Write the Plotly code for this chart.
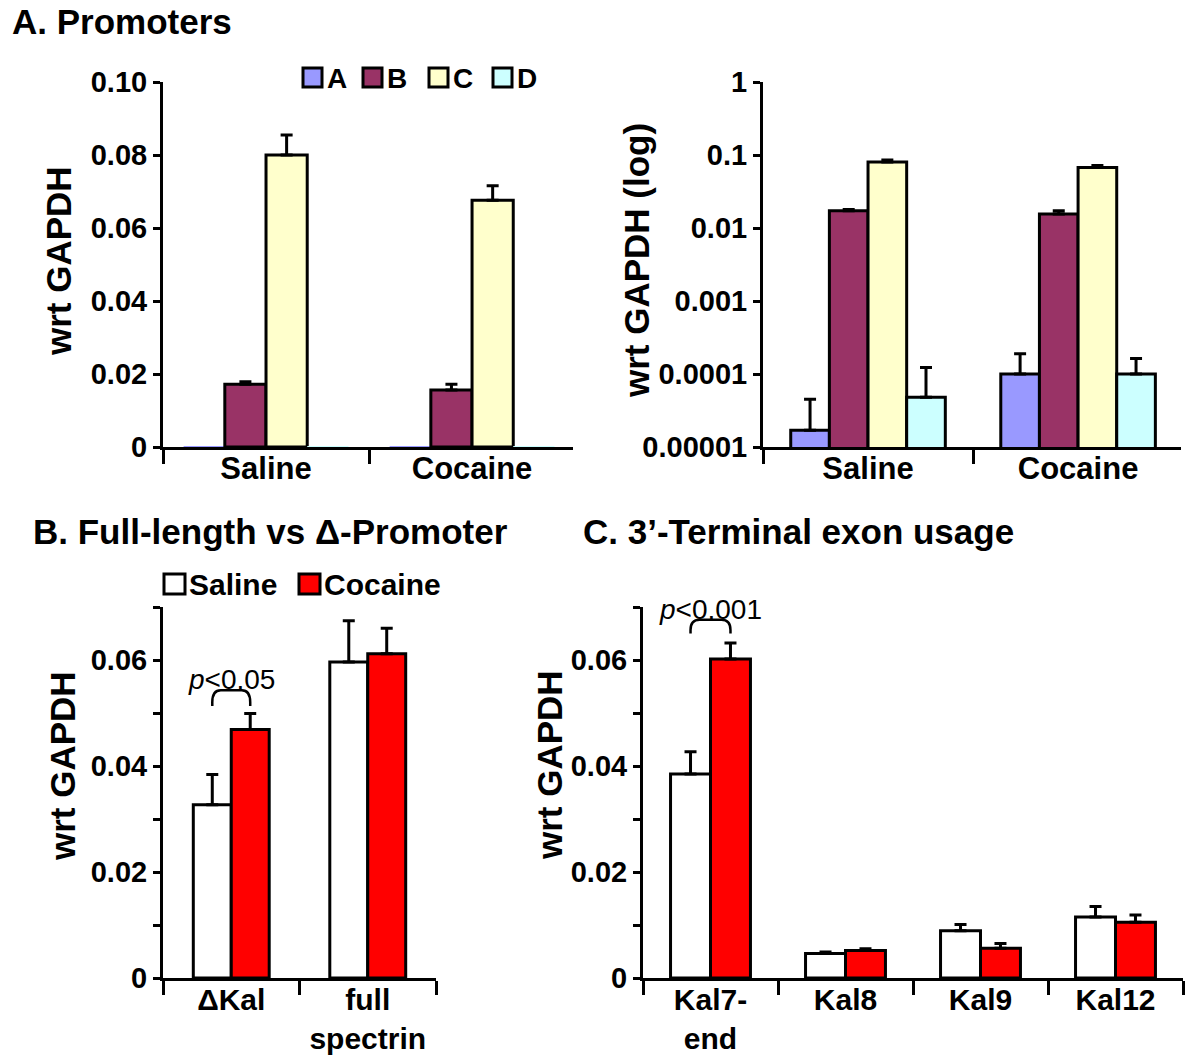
import plotly.graph_objects as go

# ---------------- data ----------------
# Panel A: promoter usage (Saline / Cocaine)
groups_A = ["Saline", "Cocaine"]
promoter_names = ["A", "B", "C", "D"]
prom_A = [1.7e-5, 1.0e-4]
prom_A_err = [2.8e-5, 0.9e-4]
prom_B = [0.0172, 0.0156]
prom_B_err = [0.0007, 0.0016]
prom_C = [0.0800, 0.0676]
prom_C_err = [0.0055, 0.0040]
prom_D = [4.8e-5, 1.0e-4]
prom_D_err = [7.5e-5, 0.63e-4]
prom_colors = ["#9999FF", "#993366", "#FFFFCC", "#CCFFFF"]

lin_ticks_A = [0, 0.02, 0.04, 0.06, 0.08, 0.10]
lin_ticklabels_A = ["0", "0.02", "0.04", "0.06", "0.08", "0.10"]
log_ticks_A = [1e-5, 1e-4, 1e-3, 1e-2, 1e-1, 1]
log_ticklabels_A = ["0.00001", "0.0001", "0.001", "0.01", "0.1", "1"]

# Panel B: full-length vs delta-promoter
cats_B = ["ΔKal", "full<br>spectrin"]
saline_B = [0.0327, 0.0596]
saline_B_err = [0.0057, 0.0078]
cocaine_B = [0.0469, 0.0612]
cocaine_B_err = [0.0030, 0.0048]

# Panel C: 3'-terminal exon usage
cats_C = ["Kal7-<br>end", "Kal8", "Kal9", "Kal12"]
saline_C = [0.0385, 0.0046, 0.0089, 0.0115]
saline_C_err = [0.0042, 0.0003, 0.0012, 0.0020]
cocaine_C = [0.0602, 0.0052, 0.0056, 0.0105]
cocaine_C_err = [0.0030, 0.0003, 0.0009, 0.0014]

ticks_BC = [0, 0.01, 0.02, 0.03, 0.04, 0.05, 0.06, 0.07]
ticklabels_BC = ["0", "", "0.02", "", "0.04", "", "0.06", ""]

cond_names = ["Saline", "Cocaine"]
cond_colors = ["#FFFFFF", "#FF0000"]

# significance annotations (y in data units)
sig_B = dict(text="<i>p</i>&lt;0.05", ytext=0.0564, ybot=0.0513, ytop=0.0543)
sig_C = dict(text="<i>p</i>&lt;0.001", ytext=0.0696, ybot=0.0650, ytop=0.0676)

# ---------------- layout helpers ----------------
W, H = 1200, 1058
FONT = "Arial, Liberation Sans, sans-serif"


def px(x):
    return x / W


def py(y):
    return 1 - y / H


fig = go.Figure()

prom_vals = [prom_A, prom_B, prom_C, prom_D]
prom_errs = [prom_A_err, prom_B_err, prom_C_err, prom_D_err]
LIN_MAX_A = 0.10

# Panel A left (linear) and right (log)
for axes, w in (("x", 0.2), ("x2", 0.184)):
    linear = axes == "x"
    ya = "y" if linear else "y2"
    for i, name in enumerate(promoter_names):
        # on the linear scale, bars far below the resolution are not drawn (as in source)
        resolvable = (not linear) or max(prom_vals[i]) > LIN_MAX_A * 0.005
        fig.add_trace(go.Bar(
            x=groups_A, y=prom_vals[i], name=name,
            xaxis=axes, yaxis=ya,
            width=w, offset=-2 * w + i * w,
            marker=dict(color=prom_colors[i],
                        line=dict(color="black", width=3 if resolvable else 0)),
            error_y=dict(type="data", array=prom_errs[i], visible=resolvable,
                         arrayminus=[0] * len(groups_A), symmetric=False,
                         color="black", thickness=3, width=6),
            showlegend=False,
        ))

# Panel B
wB = 0.278
for i, (vals, errs) in enumerate(((saline_B, saline_B_err), (cocaine_B, cocaine_B_err))):
    fig.add_trace(go.Bar(
        x=cats_B, y=vals, name=cond_names[i], xaxis="x3", yaxis="y3",
        width=wB, offset=-wB + i * wB,
        marker=dict(color=cond_colors[i], line=dict(color="black", width=3)),
        error_y=dict(type="data", array=errs, arrayminus=[0] * len(vals),
                     symmetric=False, color="black", thickness=3, width=6),
        showlegend=False,
    ))

# Panel C
wC = 0.296
for i, (vals, errs) in enumerate(((saline_C, saline_C_err), (cocaine_C, cocaine_C_err))):
    fig.add_trace(go.Bar(
        x=cats_C, y=vals, name=cond_names[i], xaxis="x4", yaxis="y4",
        width=wC, offset=-wC + i * wC,
        marker=dict(color=cond_colors[i], line=dict(color="black", width=3)),
        error_y=dict(type="data", array=errs, arrayminus=[0] * len(vals),
                     symmetric=False, color="black", thickness=3, width=6),
        showlegend=False,
    ))

tickfont = dict(family=FONT, size=29, color="black", weight="bold")


def xax(dom, anchor, n, standoff, size, end_tick=True):
    hi = n - 0.5 if end_tick else n - 0.51
    return dict(domain=[px(dom[0]), px(dom[1])], anchor=anchor, type="category",
                range=[-0.5, hi], tickson="boundaries", ticks="outside",
                ticklen=14, tickwidth=3, tickcolor="black", showline=True,
                linewidth=3, linecolor="black", showgrid=False, zeroline=False,
                tickfont=dict(family=FONT, size=size, color="black", weight="bold"),
                fixedrange=True, automargin=False, ticklabelstandoff=standoff)


def yax(dom, anchor, **kw):
    d = dict(domain=[py(dom[1]), py(dom[0])], anchor=anchor, ticks="outside",
             ticklen=7, tickwidth=3, tickcolor="black", showline=True,
             linewidth=3, linecolor="black", showgrid=False, zeroline=False,
             tickfont=tickfont, tickmode="array", fixedrange=True,
             automargin=False)
    d.update(kw)
    return d


layout = dict(
    width=W, height=H, margin=dict(l=0, r=0, t=0, b=0, pad=0, autoexpand=False),
    paper_bgcolor="white", plot_bgcolor="white", barmode="overlay",
    font=dict(family=FONT, color="black"),
    xaxis=xax((163, 573), "y", len(groups_A), -8, 31, end_tick=False),
    yaxis=yax((82, 447), "x", range=[0, LIN_MAX_A], tickvals=lin_ticks_A,
              ticktext=lin_ticklabels_A),
    xaxis2=xax((763, 1181), "y2", len(groups_A), -8, 31, end_tick=False),
    yaxis2=yax((82, 447), "x2", type="log", range=[-5, 0],
               tickvals=log_ticks_A, ticktext=log_ticklabels_A),
    xaxis3=xax((163, 436), "y3", len(cats_B), -7, 30),
    yaxis3=yax((607, 978), "x3", range=[0, 0.07], tickvals=ticks_BC,
               ticktext=ticklabels_BC),
    xaxis4=xax((643, 1183), "y4", len(cats_C), -7, 30),
    yaxis4=yax((607, 978), "x4", range=[0, 0.07], tickvals=ticks_BC,
               ticktext=ticklabels_BC),
)
fig.update_layout(**layout)

annotations = []
shapes = []

# Panel titles
for text, x, y in (("A. Promoters", 10, 22),
                   ("B. Full-length vs Δ-Promoter", 31, 531),
                   ("C. 3’-Terminal exon usage", 581, 531)):
    annotations.append(dict(text=text, xref="paper", yref="paper", x=px(x), y=py(y),
                            xanchor="left", yanchor="middle", showarrow=False,
                            font=dict(family=FONT, size=35, color="black", weight="bold")))

# Axis titles
for text, x, y in (("wrt GAPDH", 58, 261), ("wrt GAPDH (log)", 636, 261),
                   ("wrt GAPDH", 62, 766), ("wrt GAPDH", 549, 765)):
    annotations.append(dict(text=text, xref="paper", yref="paper", x=px(x), y=py(y),
                            xanchor="center", yanchor="middle", textangle=-90,
                            showarrow=False,
                            font=dict(family=FONT, size=35, color="black", weight="bold")))

# Legend panel A (manual)
leg_A_x = [303, 363, 429, 493]
for i, name in enumerate(promoter_names):
    x0 = leg_A_x[i]
    shapes.append(dict(type="rect", xref="paper", yref="paper",
                       x0=px(x0), x1=px(x0 + 19), y0=py(87), y1=py(68),
                       fillcolor=prom_colors[i], line=dict(color="black", width=3)))
    annotations.append(dict(text=name, xref="paper", yref="paper", x=px(x0 + 22), y=py(78),
                            xanchor="left", yanchor="middle", showarrow=False,
                            font=dict(family=FONT, size=28, color="black", weight="bold")))

# Legend panel B (manual)
leg_B_x = [164, 299]
for i, name in enumerate(cond_names):
    x0 = leg_B_x[i]
    shapes.append(dict(type="rect", xref="paper", yref="paper",
                       x0=px(x0), x1=px(x0 + 21), y0=py(594), y1=py(574),
                       fillcolor=cond_colors[i], line=dict(color="black", width=3)))
    annotations.append(dict(text=name, xref="paper", yref="paper", x=px(x0 + 23), y=py(584),
                            xanchor="left", yanchor="middle", showarrow=False,
                            font=dict(family=FONT, size=30, color="black", weight="bold")))


# significance brackets, spanning the two bar centres of the first category
def bracket(xref, yref, half, sig):
    x0, x1 = -half, half
    yb, yt = sig["ybot"], sig["ytop"]
    dy = (yt - yb) * 0.75
    dx = half * 0.45
    path = (f"M {x0},{yb} L {x0},{yt - dy} Q {x0},{yt} {x0 + dx},{yt} "
            f"L {x1 - dx},{yt} Q {x1},{yt} {x1},{yt - dy} L {x1},{yb}")
    shapes.append(dict(type="path", xref=xref, yref=yref, path=path,
                       line=dict(color="black", width=2.5)))
    annotations.append(dict(text=sig["text"], xref=xref, yref=yref, x=0, y=sig["ytext"],
                            xanchor="center", yanchor="middle", showarrow=False,
                            font=dict(family=FONT, size=28, color="black")))


bracket("x3", "y3", wB / 2, sig_B)
bracket("x4", "y4", wC / 2, sig_C)

fig.update_layout(annotations=annotations, shapes=shapes)

# remove the default page margin so the 1200x1058 figure fills the window exactly
fig.write_html("out.html", config={"displayModeBar": False},
               post_script="document.body.style.margin='0';document.body.style.overflow='hidden';")
